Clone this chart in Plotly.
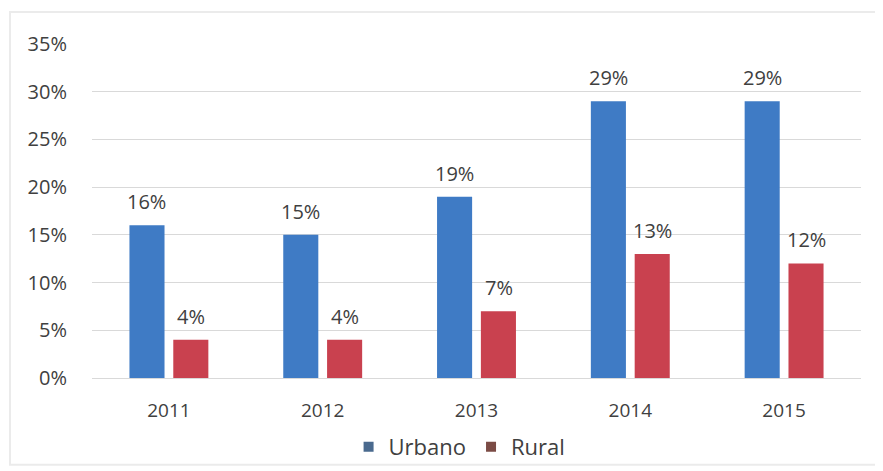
import plotly.graph_objects as go

years = ["2011", "2012", "2013", "2014", "2015"]
urbano = [16, 15, 19, 29, 29]
rural = [4, 4, 7, 13, 12]
y_ticks = [0, 5, 10, 15, 20, 25, 30, 35]
y_tick_labels = [f"{v}%" for v in y_ticks]

BLUE = "#3F7BC5"
RED = "#C9414F"
LEG_BLUE = "#4A6A8E"
LEG_RED = "#7B4B45"
FONT = "Open Sans"
TXT = "#404040"

fig = go.Figure()
fig.add_trace(go.Bar(name="Urbano", x=years, y=urbano, showlegend=False,
                     marker=dict(color=BLUE, line=dict(width=0))))
fig.add_trace(go.Bar(name="Rural", x=years, y=rural, showlegend=False,
                     marker=dict(color=RED, line=dict(width=0))))
# legend entries (muted swatches as in the reference)
fig.add_trace(go.Scatter(name="Urbano", x=[None], y=[None], mode="markers",
                         marker=dict(symbol="square", size=10, color=LEG_BLUE)))
fig.add_trace(go.Scatter(name="Rural", x=[None], y=[None], mode="markers",
                         marker=dict(symbol="square", size=10, color=LEG_RED)))

# data labels: category index on the category axis (numeric-looking names would be misread)
annotations = []
for i, (u, r) in enumerate(zip(urbano, rural)):
    annotations.append(dict(x=i, y=u, text=f"{u}%", xref="x", yref="y", showarrow=False,
                            xshift=-22, yshift=8, yanchor="bottom",
                            font=dict(family=FONT, size=20, color=TXT)))
    annotations.append(dict(x=i, y=r, text=f"{r}%", xref="x", yref="y", showarrow=False,
                            xshift=22, yshift=8, yanchor="bottom",
                            font=dict(family=FONT, size=20, color=TXT)))

# page body has an 8px margin: figure is 8px smaller so it fills the window exactly
fig.update_layout(
    width=875, height=463,
    margin=dict(l=84, r=22, t=36, b=93),
    paper_bgcolor="white", plot_bgcolor="white",
    barmode="group", bargap=0.43, bargroupgap=0.2,
    font=dict(family=FONT, size=20, color=TXT),
    showlegend=True,
    legend=dict(orientation="h", x=0.478, xanchor="center",
                yref="container", y=0.052, yanchor="middle",
                bgcolor="rgba(0,0,0,0)",
                font=dict(family=FONT, size=22, color=TXT),
                traceorder="normal"),
    annotations=annotations,
    shapes=[dict(type="rect", xref="paper", yref="paper",
                 x0=-0.1066, x1=1.021, y0=-0.26, y1=1.096,
                 line=dict(color="#EBEBEB", width=2), layer="below")],
)
fig.update_xaxes(type="category", automargin=False, showgrid=False, showline=True,
                 linecolor="#D9D9D9", linewidth=1,
                 ticks="outside", ticklen=15, tickcolor="rgba(0,0,0,0)",
                 tickfont=dict(family=FONT, size=19, color=TXT))
fig.update_yaxes(range=[0, 35], automargin=False, tickvals=y_ticks, ticktext=y_tick_labels,
                 showgrid=True, gridcolor="#D9D9D9", gridwidth=1, zeroline=False,
                 showline=False, ticks="outside", ticklen=20, tickcolor="rgba(0,0,0,0)",
                 tickfont=dict(family=FONT, size=20, color=TXT))

fig.write_html("out.html")
